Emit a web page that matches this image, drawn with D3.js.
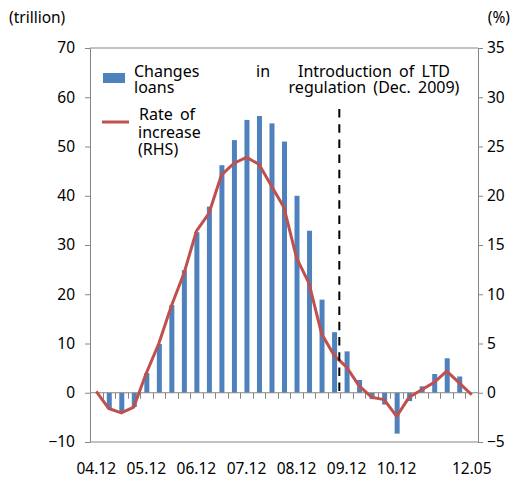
<!DOCTYPE html>
<html>
<head>
<meta charset="utf-8">
<script src="https://cdn.jsdelivr.net/npm/d3@7"></script>
<style>
  body { margin: 0; background: #fff; }
  svg text { font-family: "Noto Sans", "Open Sans", sans-serif; fill: #000; }
</style>
</head>
<body>
<svg id="chart" width="512" height="482"></svg>
<script>
const categories = ['04.12', '05.03', '05.06', '05.09', '05.12', '06.03', '06.06', '06.09',
  '06.12', '07.03', '07.06', '07.09', '07.12', '08.03', '08.06', '08.09', '08.12', '09.03',
  '09.06', '09.09', '09.12', '10.03', '10.06', '10.09', '10.12', '11.03', '11.06', '11.09',
  '11.12', '12.03', '12.05']
const shownLabels = ['04.12', '05.12', '06.12', '07.12', '08.12', '09.12', '10.12', '12.05']

// changes in loans (trillion won)
const loans = [0, -3.2, -4.1, -2.9, 4.0, 9.9, 17.8, 24.9, 32.6, 37.8, 46.2, 51.3, 55.4, 56.2,
  54.7, 51.0, 40.0, 32.9, 18.9, 12.3, 8.4, 2.6, -1.3, -2.4, -8.3, -1.7, 1.3, 3.8, 7.0, 3.3, 0]

// rate of increase (%), right axis
const rate = [0.15, -1.6, -2.05, -1.45, 2.0, 5.0, 8.8, 12.1, 16.4, 18.2, 22.1, 23.3, 23.9, 23.2,
  21.0, 18.8, 13.7, 11.1, 6.0, 3.8, 2.6, 0.7, -0.45, -0.7, -2.4, -0.45, 0.3, 1.05, 2.2, 1.0, -0.2]

const leftTicks = [-10, 0, 10, 20, 30, 40, 50, 60, 70]
const rightTicks = [-5, 0, 5, 10, 15, 20, 25, 30, 35]
const ltdDate = '09.12'

const margin = { top: 48, right: 34, bottom: 40, left: 90 }
const width = 512 - margin.left - margin.right
const height = 482 - margin.top - margin.bottom
const axisColor = '#868686'

const svg = d3.select('#chart')

const xScale = d3.scaleBand()
  .domain(categories)
  .range([margin.left, margin.left + width])

const yLeft = d3.scaleLinear()
  .domain([-10, 70])
  .range([margin.top + height, margin.top])

const yRight = d3.scaleLinear()
  .domain([-5, 35])
  .range([margin.top + height, margin.top])

const xc = d => xScale(d) + xScale.bandwidth() / 2

// plot frame: top and bottom lines
svg.append('line')
  .attr('x1', margin.left).attr('x2', margin.left + width)
  .attr('y1', margin.top).attr('y2', margin.top)
  .attr('stroke', axisColor)
svg.append('line')
  .attr('x1', margin.left).attr('x2', margin.left + width)
  .attr('y1', margin.top + height).attr('y2', margin.top + height)
  .attr('stroke', axisColor)

// bars
svg.append('g')
  .selectAll('rect')
  .data(loans)
  .join('rect')
  .attr('x', (d, i) => xc(categories[i]) - 2)
  .attr('width', 5)
  .attr('y', d => yLeft(Math.max(0, d)))
  .attr('height', d => Math.abs(yLeft(d) - yLeft(0)))
  .attr('fill', '#4f81bd')

// category axis along zero
const zeroAxis = svg.append('g')
  .attr('transform', `translate(0, ${yLeft(0)})`)
zeroAxis.append('line')
  .attr('x1', margin.left).attr('x2', margin.left + width)
  .attr('stroke', axisColor)
zeroAxis.selectAll('.tk')
  .data(categories.slice(1))
  .join('line')
  .attr('x1', d => Math.round(xScale(d)) + 0.5)
  .attr('x2', d => Math.round(xScale(d)) + 0.5)
  .attr('y1', 0).attr('y2', 6)
  .attr('stroke', axisColor)

// category labels
svg.append('g')
  .selectAll('text')
  .data(shownLabels)
  .join('text')
  .attr('x', d => xc(d))
  .attr('y', 474)
  .attr('text-anchor', 'middle')
  .style('font-size', '15.5px')
  .text(d => d)

// left axis
const leftAxis = d3.axisLeft(yLeft)
  .tickValues(leftTicks)
  .tickSize(5)
  .tickPadding(10)
  .tickSizeOuter(0)
svg.append('g')
  .attr('transform', `translate(${margin.left}, 0)`)
  .call(leftAxis)
  .call(g => g.selectAll('line, path').attr('stroke', axisColor))
  .call(g => g.selectAll('text').style('font-size', '15.5px').attr('font-family', null))

// right axis
const rightAxis = d3.axisRight(yRight)
  .tickValues(rightTicks)
  .tickSize(5)
  .tickPadding(4)
  .tickSizeOuter(0)
svg.append('g')
  .attr('transform', `translate(${margin.left + width}, 0)`)
  .call(rightAxis)
  .call(g => g.selectAll('line, path').attr('stroke', axisColor))
  .call(g => g.selectAll('text').style('font-size', '15.5px').attr('font-family', null))

// rate line
const linegen = d3.line()
  .x((d, i) => xc(categories[i]))
  .y(d => yRight(d))

svg.append('path')
  .attr('d', linegen(rate))
  .attr('fill', 'none')
  .attr('stroke', '#c0504d')
  .attr('stroke-width', 3)
  .attr('stroke-linejoin', 'round')

// LTD regulation marker
const ltdX = xScale(ltdDate) - 1
svg.append('line')
  .attr('x1', ltdX).attr('x2', ltdX)
  .attr('y1', 109).attr('y2', yLeft(0))
  .attr('stroke', '#000')
  .attr('stroke-width', 2)
  .attr('stroke-dasharray', '8.5,6.7')

const note = svg.append('text')
  .attr('text-anchor', 'middle')
  .style('font-size', '16px')
  .style('word-spacing', '3px')
note.append('tspan').attr('x', 374).attr('y', 77).text('Introduction of LTD')
note.append('tspan').attr('x', 374).attr('y', 93).text('regulation (Dec. 2009)')

// unit labels
svg.append('text')
  .attr('x', 9).attr('y', 23)
  .style('font-size', '15.5px')
  .text('(trillion)')
svg.append('text')
  .attr('x', 510).attr('y', 23)
  .attr('text-anchor', 'end')
  .style('font-size', '15.5px')
  .text('(%)')

// legend
const legend = svg.append('g')
legend.append('rect')
  .attr('x', 103).attr('y', 73)
  .attr('width', 22).attr('height', 10)
  .attr('fill', '#4f81bd')
legend.append('text').attr('x', 134).attr('y', 77).style('font-size', '16px').text('Changes')
legend.append('text').attr('x', 256).attr('y', 77).style('font-size', '16px').text('in')
legend.append('text').attr('x', 134).attr('y', 93).style('font-size', '16px').text('loans')

legend.append('line')
  .attr('x1', 102).attr('x2', 129)
  .attr('y1', 122).attr('y2', 122)
  .attr('stroke', '#c0504d')
  .attr('stroke-width', 3)
const rateLabel = legend.append('text').style('font-size', '16px')
rateLabel.append('tspan').attr('x', 139).attr('y', 120).style('word-spacing', '3px').text('Rate of')
rateLabel.append('tspan').attr('x', 138).attr('y', 138).text('increase')
rateLabel.append('tspan').attr('x', 138).attr('y', 155).text('(RHS)')
</script>
</body>
</html>
